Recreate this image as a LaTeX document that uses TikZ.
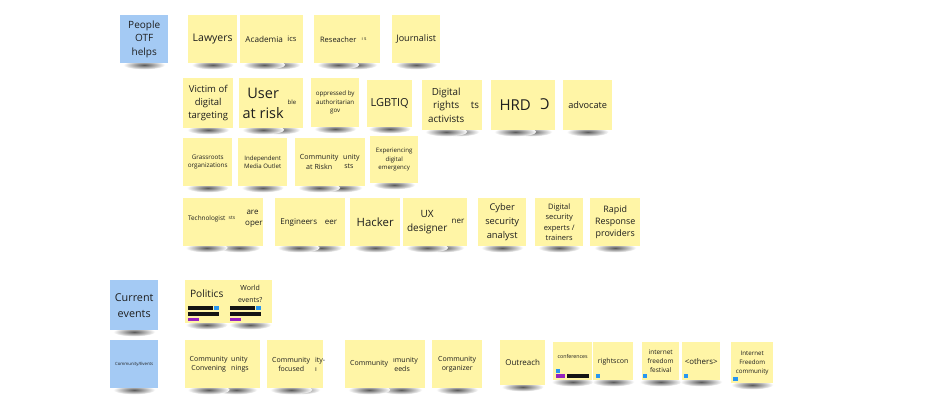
\documentclass[tikz,border=0pt]{standalone}
\usepackage{fontspec}
\setmainfont{Open Sans}
\usepackage{graphicx}
\usetikzlibrary{positioning,calc,backgrounds}
\definecolor{stickyyellow}{RGB}{255,245,166}
\definecolor{stickyblue}{RGB}{164,202,244}
\definecolor{tagblue}{RGB}{40,150,240}
\definecolor{tagpurple}{RGB}{150,35,190}
\definecolor{tagblack}{RGB}{20,20,20}
\definecolor{inktext}{RGB}{30,30,30}
\newcommand{\fsz}[2][1.35]{\fontsize{#2}{\fpeval{#1*#2}}\selectfont}

\begin{document}
\begin{tikzpicture}[
    x=1pt, y=-1pt,
    note/.style={
        rectangle, inner sep=0pt, anchor=north west,
        align=center, text=inktext
    },
    sticky/.style={note, fill=stickyyellow},
    bluesticky/.style={note, fill=stickyblue},
    dims/.style 2 args={minimum width=#1, minimum height=#2},
    fs/.style={font=\fsz{#1}},
    fsr/.style 2 args={font=\fsz[#2]{#1}},
    frag/.style={inner sep=0pt, align=left, text=inktext},
    caption/.style={inner sep=0pt, align=center, text=inktext}
]
\useasboundingbox (0,0) rectangle (950,400);

% first row: people OTF helps
\node[bluesticky, dims={48}{48}, fs=10] (otf) at (120,15) {People\\OTF\\helps};
\node[sticky, dims={49}{48}, fs=10.5] (lawyers) at (188,15) {Lawyers};
\node[sticky, dims={48}{48}] (academia-back) at (255,15) {};
\node[sticky, dims={48}{48}, fs=8.2] (academia) at (240,15) {Academia};
\node[frag, fs=7.5] (academia-frag) at (292,39) {ics};
\node[sticky, dims={48}{48}] (researcher-back) at (332,15) {};
\node[sticky, dims={48}{48}, fs=7.5] (researcher) at (314,15) {Reseacher};
\node[frag, fs=5] (researcher-frag) at (364,39) {ı s};
\node[sticky, dims={48}{48}, fs=9] (journalist) at (392,15) {Journalist};

% second row
\node[sticky, dims={50}{50}, fs=9.5] (victim) at (183,78) {Victim of\\digital\\targeting};
\node[sticky, dims={48}{50}] (user-back) at (255,78) {};
\node[sticky, dims={48}{50}, fs=14.5] (user) at (239,78) {User\\at risk};
\node[frag, fs=6] (user-frag) at (292,102) {ble};
\node[sticky, dims={48}{49}, fs=6.2] (oppressed) at (311,78) {oppressed by\\authoritarian\\gov};
\node[sticky, dims={45}{47}, fs=11] (lgbtiq) at (367,80) {LGBTIQ};
\node[sticky, dims={48}{50}] (rights-back) at (434,80) {};
\node[sticky, dims={48}{50}, fs=9.8] (rights) at (422,80) {Digital\\rights\\activists};
\node[frag, fs=9.8] (rights-frag) at (475,105) {ts};
\node[sticky, dims={48}{50}] (hrd-back) at (507,80) {};
\node[sticky, dims={48}{50}, fs=15] (hrd) at (491,80) {HRD};
\node[frag, fs=15] (hrd-frag) at (545,104) {\reflectbox{C}};
\node[sticky, dims={49}{50}, fs=9.2] (advocate) at (563,80) {advocate};

% third row
\node[sticky, dims={49}{48}, fs=6.3] (grassroots) at (183,138) {Grassroots\\organizations};
\node[sticky, dims={49}{48}, fs=6.1] (media) at (238,138) {Independent\\Media Outlet};
\node[sticky, dims={48}{48}] (comrisk-back) at (317,138) {};
\node[sticky, dims={48}{48}, fs=7.1] (comrisk) at (295,138) {Community\\at Riskn};
\node[frag, fs=7, anchor=west] (comrisk-frag) at (343,161.5) {unity\\\,sts};
\node[sticky, dims={48}{47}, fs=6.1] (emergency) at (370,136) {Experiencing\\digital\\emergency};

% fourth row
\node[sticky, dims={48}{48}] (techno-back) at (215,198) {};
\node[sticky, dims={47}{48}, fs=6.4, text depth=9pt] (techno) at (183,198) {Technologist};
\node[frag, fs=5] (techno-frag) at (232,218) {sts};
\node[frag, fs=8, anchor=west] (developer-frag) at (245,218.5) {\,are\\oper};
\node[sticky, dims={48}{48}] (engineers-back) at (297,198) {};
\node[sticky, dims={47}{48}, fs=8] (engineers) at (275,198) {Engineers};
\node[frag, fs=8] (engineers-frag) at (331,222) {eer};
\node[sticky, dims={50}{48}, fs=11.4] (hacker) at (350,198) {Hacker};
\node[sticky, dims={48}{48}] (ux-back) at (419,198) {};
\node[sticky, dims={48}{48}, fs=10] (ux) at (403,198) {UX\\designer};
\node[frag, fs=8] (ux-frag) at (458,221) {ner};
\node[sticky, dims={48}{48}, fsr={9.3}{1.5}] (cyber) at (478,198) {Cyber\\security\\analyst};
\node[sticky, dims={48}{48}, fs=7.5] (digsec) at (535,198) {Digital\\security\\experts /\\trainers};
\node[sticky, dims={50}{48}, fsr={8.9}{1.4}] (rapid) at (590,198) {Rapid\\Response\\providers};

% current events
\node[bluesticky, dims={48}{50}, fsr={10.8}{1.48}] (current) at (110,280) {Current\\events};
\node[sticky, dims={43}{43}] (politics) at (185,280) {};
\node[sticky, dims={44}{43}] (world) at (228,280) {};
\node[caption, fs=10.2] (politics-text) at ($(politics.north)+(0,14)$) {Politics};
\node[caption, fsr={7}{1.65}] (world-text) at ($(world.north)+(0,14)$) {World\\events?};
\fill[tagblack] (188,306) rectangle (213,309.5);
\fill[tagblue] (213.5,306) rectangle (219,310);
\fill[tagblack] (188,312) rectangle (219,315.5);
\fill[tagpurple] (188,317.5) rectangle (199,321);
\fill[tagblack] (230,306) rectangle (255,309.5);
\fill[tagblue] (255.5,306) rectangle (261,310);
\fill[tagblack] (230,312) rectangle (261,315.5);
\fill[tagpurple] (230,317.5) rectangle (241,321);

% community events
\node[bluesticky, dims={48}{48}, fs=4.3] (comev) at (110,340) {Community/Events};
\node[sticky, dims={48}{48}] (convening-back) at (212,340) {};
\node[sticky, dims={47}{48}, fsr={7}{1.3}] (convening) at (185,340) {Community\\Convening};
\node[frag, fsr={7}{1.3}, anchor=west] (convening-frag) at (231,364.5) {unity\\nings};
\node[sticky, dims={48}{48}] (focused-back) at (275,340) {};
\node[sticky, dims={48}{48}, fsr={7}{1.3}] (focused) at (267,340) {Community\\focused};
\node[frag, fsr={7}{1.3}, anchor=west] (focused-frag) at (315,364.5) {ity-\\ı};
\node[sticky, dims={48}{48}] (needs-back) at (377,340) {};
\node[sticky, dims={48}{48}, fs=7] (needs) at (345,340) {Community};
\node[frag, fsr={7}{1.3}, anchor=west] (needs-frag) at (393,364.5) {ımunity\\\,eeds};
\node[sticky, dims={50}{48}, fsr={7}{1.3}] (organizer) at (432,340) {Community\\organizer};
\node[sticky, dims={45}{45}, fs=8] (outreach) at (500,340) {Outreach};
\node[sticky, dims={39}{38}] (conferences) at (553,342) {};
\node[caption, fs=5.3] (conferences-text) at ($(conferences.north)+(0,14)$) {conferences};
\node[sticky, dims={40}{38}, fs=7] (rightscon) at (593,342) {rightscon};
\node[sticky, dims={37}{38}, fs=6.5] (iff) at (642,342) {internet\\freedom\\festival};
\node[sticky, dims={38}{38}, fs=7.9] (others) at (682,342) {<others>};
\node[sticky, dims={42}{41}, fsr={6.2}{1.45}] (ifc) at (731,342) {Internet\\Freedom\\community};
\fill[tagblue] (556,369) rectangle (560,372.5);
\fill[tagpurple] (555.5,374) rectangle (565,378.3);
\fill[tagblack] (566.5,374) rectangle (589,378.3);
\fill[tagblue] (596,374) rectangle (600,377.7);
\fill[tagblue] (643,374) rectangle (647,377.7);
\fill[tagblue] (684,374) rectangle (688,377.7);
\fill[tagblue] (733,377) rectangle (738,380.7);

% shadows under the notes
\begin{scope}[on background layer]
\fill[white] (0,0) rectangle (950,400);
\foreach \n in {otf,lawyers,academia-back,academia,researcher-back,researcher,journalist,
    victim,user-back,user,oppressed,lgbtiq,rights-back,rights,hrd-back,hrd,advocate,
    grassroots,media,comrisk-back,comrisk,emergency,
    techno-back,techno,engineers-back,engineers,hacker,ux-back,ux,cyber,digsec,rapid,
    current,politics,world,
    comev,convening-back,convening,focused-back,focused,needs-back,needs,organizer,
    outreach,conferences,rightscon,iff,others,ifc}
    \shade[inner color=black!65, outer color=white]
        ([yshift=-1.5pt]\n.south) ellipse [x radius=21pt, y radius=4.5pt];
\end{scope}

\end{tikzpicture}
\end{document}
